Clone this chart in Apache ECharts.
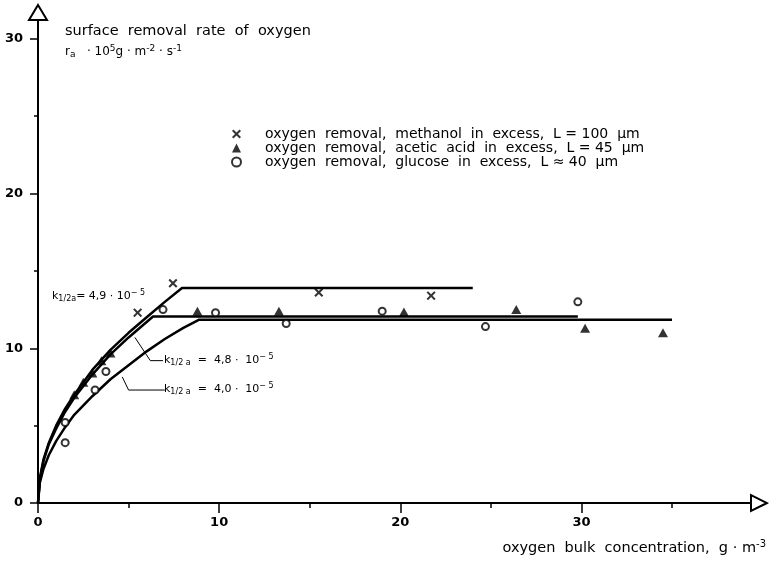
<!DOCTYPE html>
<html><head><meta charset="utf-8">
<script src="https://cdn.jsdelivr.net/npm/echarts@6/dist/echarts.min.js"></script>
<style>html,body{margin:0;padding:0;background:#fff}#c{width:769px;height:563px}</style>
</head><body><div id="c"></div>
<script>
// ---- tick values ----
const xTicks = [0, 10, 20, 30];
const xMinorTicks = [5, 15, 25, 35];
const yTicks = [0, 10, 20, 30];
const yMinorTicks = [5, 15, 25];

// ---- measured points ----
const methanolX = [5.5, 7.45, 15.5, 21.7];
const methanolY = [12.3, 14.2, 13.6, 13.4];
const aceticX = [2.0, 2.5, 3.0, 3.5, 4.0, 8.8, 13.3, 20.2, 26.4, 30.2, 34.5];
const aceticY = [7.0, 7.8, 8.4, 9.2, 9.7, 12.4, 12.4, 12.35, 12.5, 11.3, 11.0];
const glucoseX = [1.5, 1.5, 3.15, 3.75, 6.9, 9.8, 13.7, 19.0, 24.7, 29.8];
const glucoseY = [3.9, 5.2, 7.3, 8.5, 12.5, 12.3, 11.6, 12.4, 11.4, 13.0];

// ---- fitted model curves ----
const curve49X = [0, 0.1, 0.3, 0.6, 1, 1.5, 2, 3, 4, 5, 6, 7, 7.95, 24.0];
const curve49Y = [0, 1.6, 2.8, 3.9, 5.0, 6.1, 7.0, 8.6, 9.9, 11.0, 12.0, 13.0, 13.9, 13.9];
const curve48X = [0, 0.1, 0.3, 0.6, 1, 1.5, 2, 3, 4, 5, 6.35, 29.8];
const curve48Y = [0, 1.5, 2.7, 3.8, 4.8, 5.9, 6.8, 8.3, 9.6, 10.7, 12.05, 12.05];
const curve40X = [0, 0.1, 0.3, 0.6, 1, 1.5, 2, 3, 4, 5, 6, 7, 8, 8.9, 35.0];
const curve40Y = [0, 1.3, 2.2, 3.1, 4.0, 4.9, 5.7, 6.9, 8.0, 8.9, 9.8, 10.6, 11.3, 11.85, 11.85];

// ---- annotation leader lines (data coords) ----
const leader48X = [5.35, 6.2, 6.9];
const leader48Y = [10.7, 9.2, 9.2];
const leader40X = [4.65, 5.0, 7.0];
const leader40Y = [8.15, 7.3, 7.3];

const seriesNames = [
  'oxygen  removal,  methanol  in  excess,  L = 100  \u03bcm',
  'oxygen  removal,  acetic  acid  in  excess,  L = 45  \u03bcm',
  'oxygen  removal,  glucose  in  excess,  L \u2248 40  \u03bcm'
];

const FONT = 'DejaVu Sans';
const XMAX = 39.8, YMAX = 31.7;
const GL = 38, GR = 10, GT = 12.5, GB = 60;
const GW = 769 - GL - GR, GH = 563 - GT - GB;
const crossPath = 'path://M0,1.6L1.6,0L5,3.4L8.4,0L10,1.6L6.6,5L10,8.4L8.4,10L5,6.6L1.6,10L0,8.4L3.4,5Z';
const zip = (a, b) => a.map((v, i) => [v, b[i]]);

const chart = echarts.init(document.getElementById('c'));
const curveStyle = { color: '#000', width: 2.5 };
function curve(xs, ys) {
  return { type: 'line', data: zip(xs, ys), showSymbol: false, symbol: 'none',
    lineStyle: curveStyle, silent: true, z: 3 };
}
function leader(xs, ys) {
  return { type: 'line', data: zip(xs, ys), showSymbol: false, symbol: 'none',
    lineStyle: { color: '#000', width: 1 }, silent: true, z: 3 };
}
const kRich = {
  k: { fontFamily: FONT, fontSize: 11, fill: '#000' },
  s: { fontFamily: FONT, fontSize: 8, fill: '#000', padding: [6, 0, 0, 0] },
  p: { fontFamily: FONT, fontSize: 8, fill: '#000', padding: [0, 0, 6, 0] }
};

chart.setOption({
  animation: false,
  backgroundColor: '#fff',
  grid: { left: GL, right: GR, top: GT, bottom: GB },
  xAxis: [{
    type: 'value', min: 0, max: XMAX,
    axisLine: { onZero: false, lineStyle: { color: '#000', width: 2 },
      symbol: ['none', 'emptyTriangle'], symbolSize: [16, 16] },
    axisTick: { customValues: xTicks, length: 10, lineStyle: { color: '#000', width: 1.5 } },
    axisLabel: { customValues: xTicks, margin: 13, color: '#000', fontSize: 13, fontWeight: 'bold', fontFamily: FONT },
    splitLine: { show: false }
  }, {
    type: 'value', min: 0, max: XMAX, position: 'top', offset: -GH,
    axisLine: { show: false, onZero: false },
    axisTick: { customValues: xMinorTicks, inside: true, length: 5, lineStyle: { color: '#000', width: 1.5 } },
    axisLabel: { show: false }, splitLine: { show: false }
  }],
  yAxis: [{
    type: 'value', min: 0, max: YMAX,
    axisLine: { onZero: false, lineStyle: { color: '#000', width: 2 },
      symbol: ['none', 'emptyTriangle'], symbolSize: [18, 15] },
    axisTick: { customValues: yTicks, length: 8, lineStyle: { color: '#000', width: 1.5 } },
    axisLabel: { customValues: yTicks, margin: 15, color: '#000', fontSize: 13, fontWeight: 'bold', fontFamily: FONT },
    splitLine: { show: false }
  }, {
    type: 'value', min: 0, max: YMAX, position: 'right', offset: -GW,
    axisLine: { show: false, onZero: false },
    axisTick: { customValues: yMinorTicks, inside: true, length: 4, lineStyle: { color: '#000', width: 1.5 } },
    axisLabel: { show: false }, splitLine: { show: false }
  }],
  legend: {
    orient: 'vertical', left: 226, top: 122, itemWidth: 9, itemHeight: 9, itemGap: 0,
    selectedMode: false, data: seriesNames,
    textStyle: { fontFamily: FONT, fontSize: 14, color: '#000', lineHeight: 13, padding: [0, 0, 0, 19] }
  },
  series: [
    curve(curve49X, curve49Y),
    curve(curve48X, curve48Y),
    curve(curve40X, curve40Y),
    leader(leader48X, leader48Y),
    leader(leader40X, leader40Y),
    { name: seriesNames[0], type: 'scatter', data: zip(methanolX, methanolY), symbol: crossPath,
      symbolSize: 9, itemStyle: { color: '#000' }, z: 5 },
    { name: seriesNames[1], type: 'scatter', data: zip(aceticX, aceticY), symbol: 'triangle',
      symbolSize: [10, 9], itemStyle: { color: '#000' }, z: 5 },
    { name: seriesNames[2], type: 'scatter', data: zip(glucoseX, glucoseY), symbol: 'emptyCircle',
      symbolSize: 7, itemStyle: { color: '#000', borderColor: '#000', borderWidth: 2 }, z: 5 }
  ],
  graphic: [
    { type: 'text', left: 65, top: 24, style: { text: 'surface  removal  rate  of  oxygen', fontSize: 14.5, fontFamily: FONT, fill: '#000' } },
    { type: 'text', left: 65, top: 44, style: {
      text: '{n|r}{sb|a}{n|   \u00b7 10}{sp|5}{n|g \u00b7 m}{sp|-2}{n| \u00b7 s}{sp|-1}',
      rich: {
        n: { fontFamily: FONT, fontSize: 12, fill: '#000' },
        sb: { fontFamily: FONT, fontSize: 9, fill: '#000', padding: [6, 0, 0, 0] },
        sp: { fontFamily: FONT, fontSize: 9, fill: '#000', padding: [0, 0, 7, 0] }
      } } },
    { type: 'text', right: 3, top: 539, style: {
      text: '{n|oxygen  bulk  concentration,  g \u00b7 m}{sp|-3}',
      rich: {
        n: { fontFamily: FONT, fontSize: 14.5, fill: '#000' },
        sp: { fontFamily: FONT, fontSize: 10, fill: '#000', padding: [0, 0, 8, 0] }
      } } },
    { type: 'text', left: 52, top: 289, style: { text: '{k|k}{s|1/2a}{k|= 4,9 \u00b7 10}{p|\u2212 5}', rich: kRich } },
    { type: 'text', left: 164, top: 353, style: { text: '{k|k}{s|1/2 a}{k|  =  4,8 \u00b7  10}{p|\u2212 5}', rich: kRich } },
    { type: 'text', left: 164, top: 382, style: { text: '{k|k}{s|1/2 a}{k|  =  4,0 \u00b7  10}{p|\u2212 5}', rich: kRich } }
  ]
});
</script>
</body></html>
